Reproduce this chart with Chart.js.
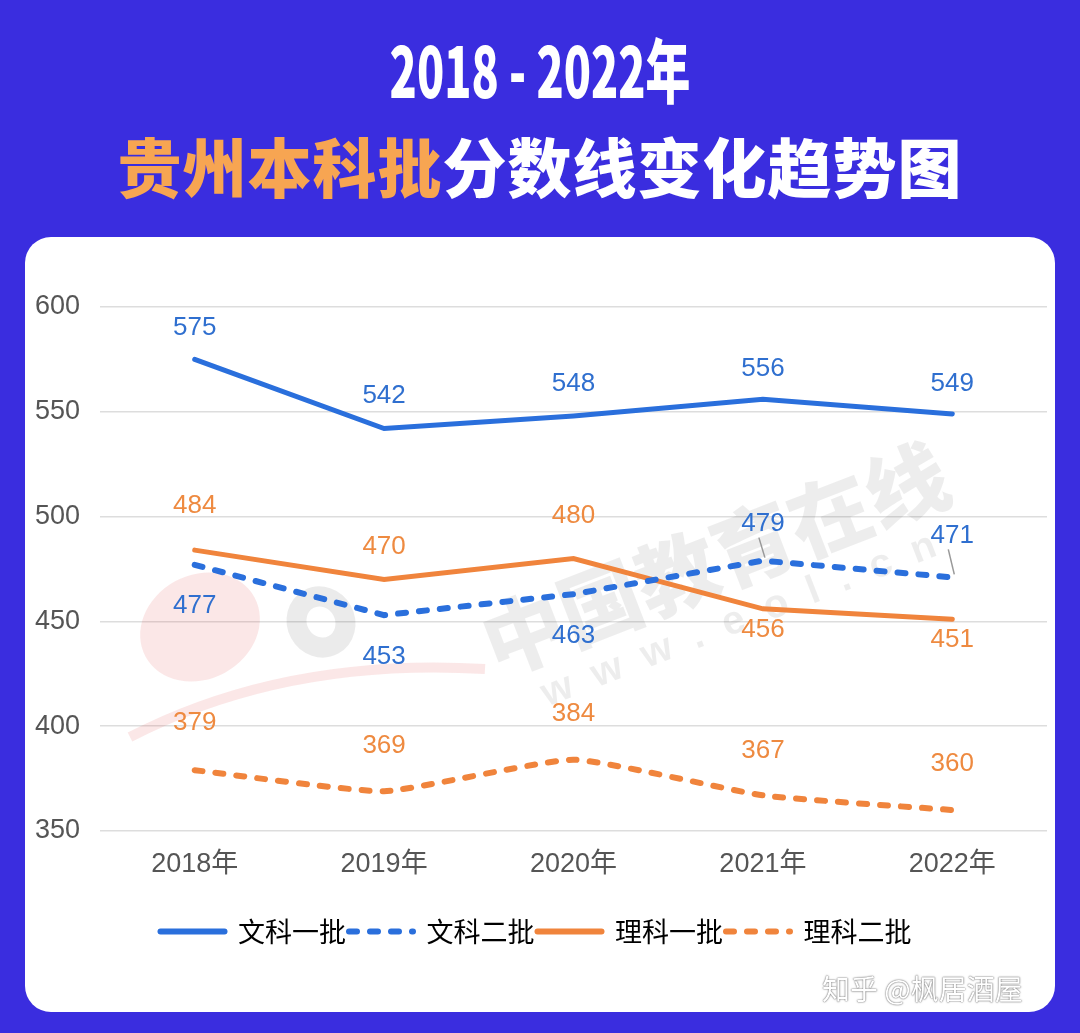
<!DOCTYPE html>
<html lang="zh">
<head>
  <meta charset="UTF-8">
  <title>2018-2022年贵州本科批分数线变化趋势图</title>
  <script src="https://cdn.jsdelivr.net/npm/chart.js"></script>
  <style>
    body {
      margin: 0;
      width: 1080px;
      height: 1033px;
      overflow: hidden;
      background-color: #3a2ddf;
      font-family: "Noto Sans CJK SC", sans-serif;
      position: relative;
    }

    .title1 {
      position: absolute;
      top: 24px;
      left: 0;
      width: 1080px;
      text-align: center;
      color: #fff;
      font-size: 70px;
      font-weight: 900;
      line-height: 88px;
      transform: scaleX(0.64);
    }

    .title2 {
      position: absolute;
      top: 122px;
      left: 0;
      width: 1080px;
      text-align: center;
      color: #fff;
      font-size: 64px;
      font-weight: 900;
      line-height: 84px;
      letter-spacing: 1px;
    }

    .title2 .hl {
      color: #f7a552;
    }

    .card {
      position: absolute;
      left: 25px;
      top: 237px;
      width: 1030px;
      height: 775px;
      background: #fff;
      border-radius: 26px;
    }

    .credit {
      position: absolute;
      left: 822px;
      top: 968px;
      font-size: 28px;
      color: #fff;
      text-shadow: 0 0 2px rgba(0,0,0,0.55), 0 0 1px rgba(0,0,0,0.5);
    }
  </style>
</head>
<body>

<div class="title1">2018 - 2022年</div>
<div class="title2"><span class="hl">贵州本科批</span>分数线变化趋势图</div>

<div class="card">
  <canvas id="scoreChart"></canvas>
</div>

<div class="credit">知乎 @枫居酒屋</div>

<script>
  const years = ['2018年', '2019年', '2020年', '2021年', '2022年'];
  const wenke1 = [575, 542, 548, 556, 549];
  const wenke2 = [477, 453, 463, 479, 471];
  const like1 = [484, 470, 480, 456, 451];
  const like2 = [379, 369, 384, 367, 360];
  const yTicks = [350, 400, 450, 500, 550, 600];

  const BLUE = '#2a6fdc';
  const ORANGE = '#f0843c';

  // value labels next to each point
  const valueLabels = {
    id: 'valueLabels',
    afterDatasetsDraw(chart) {
      const ctx = chart.ctx;
      ctx.save();
      ctx.font = '26px "Liberation Sans", Arial, sans-serif';
      ctx.textAlign = 'center';
      ctx.textBaseline = 'middle';
      chart.data.datasets.forEach((ds, i) => {
        const meta = chart.getDatasetMeta(i);
        meta.data.forEach((pt, j) => {
          const dy = ds.labelOffset[j];
          ctx.fillStyle = ds.labelColor;
          ctx.fillText(ds.data[j], pt.x, pt.y + dy);
          if (ds.leader && ds.leader[j]) {
            ctx.strokeStyle = '#999';
            ctx.lineWidth = 1.5;
            ctx.beginPath();
            ctx.moveTo(pt.x - 4, pt.y + dy + 14);
            ctx.lineTo(pt.x + 2, pt.y - 3);
            ctx.stroke();
          }
        });
      });
      ctx.restore();
    }
  };

  // faint site watermark behind the lines
  const watermark = {
    id: 'watermark',
    beforeDatasetsDraw(chart) {
      const ctx = chart.ctx;
      ctx.save();
      // logo
      ctx.fillStyle = 'rgba(225, 70, 70, 0.13)';
      ctx.beginPath();
      ctx.ellipse(175, 390, 62, 52, -0.5, 0, Math.PI * 2);
      ctx.fill();
      ctx.strokeStyle = 'rgba(225, 70, 70, 0.13)';
      ctx.lineWidth = 10;
      ctx.beginPath();
      ctx.moveTo(105, 500);
      ctx.quadraticCurveTo(260, 420, 460, 432);
      ctx.stroke();
      ctx.strokeStyle = 'rgba(0, 0, 0, 0.08)';
      ctx.lineWidth = 20;
      ctx.beginPath();
      ctx.ellipse(296, 385, 24, 26, -0.5, 0, Math.PI * 2);
      ctx.stroke();
      // text
      ctx.translate(690, 322);
      ctx.rotate(-0.37);
      ctx.fillStyle = 'rgba(0, 0, 0, 0.07)';
      ctx.textAlign = 'center';
      ctx.textBaseline = 'middle';
      ctx.font = '900 82px "Noto Sans CJK SC", sans-serif';
      ctx.fillText('中国教育在线', 0, 0);
      ctx.font = '700 40px "Liberation Sans", sans-serif';
      ctx.fillText('w  w  w  .  e  o  l  .  c  n', 0, 66);
      ctx.restore();
    }
  };

  const ctx = document.getElementById('scoreChart').getContext('2d');
  new Chart(ctx, {
    type: 'line',
    data: {
      labels: years,
      datasets: [{
        label: '文科一批',
        data: wenke1,
        borderColor: BLUE,
        backgroundColor: BLUE,
        borderWidth: 5,
        borderCapStyle: 'round',
        labelColor: '#2f6fcf',
        labelOffset: [-32, -33, -32, -30, -30]
      }, {
        label: '文科二批',
        data: wenke2,
        borderColor: BLUE,
        backgroundColor: BLUE,
        borderWidth: 6,
        borderDash: [8, 13],
        borderCapStyle: 'round',
        labelColor: '#2f6fcf',
        labelOffset: [41, 42, 42, -37, -42],
        leader: [false, false, false, true, true]
      }, {
        label: '理科一批',
        data: like1,
        borderColor: ORANGE,
        backgroundColor: ORANGE,
        borderWidth: 5,
        borderCapStyle: 'round',
        labelColor: '#ee8a40',
        labelOffset: [-44, -33, -43, 21, 21]
      }, {
        label: '理科二批',
        data: like2,
        borderColor: ORANGE,
        backgroundColor: ORANGE,
        borderWidth: 6,
        borderDash: [8, 13],
        borderCapStyle: 'round',
        tension: 0.15,
        labelColor: '#ee8a40',
        labelOffset: [-47, -45, -46, -45, -46]
      }]
    },
    options: {
      responsive: true,
      maintainAspectRatio: false,
      animation: false,
      layout: {
        padding: { top: 70, right: 8, bottom: 57, left: 0 }
      },
      elements: {
        point: { radius: 0, hoverRadius: 0 },
        line: { tension: 0 }
      },
      scales: {
        x: {
          offset: true,
          grid: { display: false },
          border: { display: false },
          ticks: {
            color: '#555',
            padding: 9,
            font: { size: 27, family: '"Liberation Sans", "Noto Sans CJK SC", sans-serif' }
          },
          afterFit(scale) { scale.height = 84; }
        },
        y: {
          min: yTicks[0],
          max: yTicks[yTicks.length - 1],
          afterBuildTicks(scale) {
            scale.ticks = yTicks.map(v => ({ value: v }));
          },
          grid: { color: '#dddddd', lineWidth: 1.5, drawTicks: false },
          border: { display: false },
          ticks: {
            color: '#555',
            padding: 20,
            font: { size: 27, family: '"Liberation Sans", Arial, sans-serif' }
          },
          afterFit(scale) { scale.width = 75; }
        }
      },
      plugins: {
        legend: {
          position: 'bottom',
          labels: {
            usePointStyle: true,
            pointStyle: 'line',
            pointStyleWidth: 64,
            color: '#555',
            padding: 3,
            font: { size: 27, family: '"Noto Sans CJK SC", sans-serif' },
            generateLabels(chart) {
              return chart.data.datasets.map((ds, i) => ({
                text: ds.label,
                fillStyle: ds.borderColor,
                strokeStyle: ds.borderColor,
                lineWidth: 6,
                lineDash: ds.borderDash || [],
                lineCap: 'round',
                pointStyle: 'line',
                hidden: false,
                datasetIndex: i
              }));
            }
          }
        },
        tooltip: { enabled: false }
      }
    },
    plugins: [watermark, valueLabels]
  });
</script>

</body>
</html>
